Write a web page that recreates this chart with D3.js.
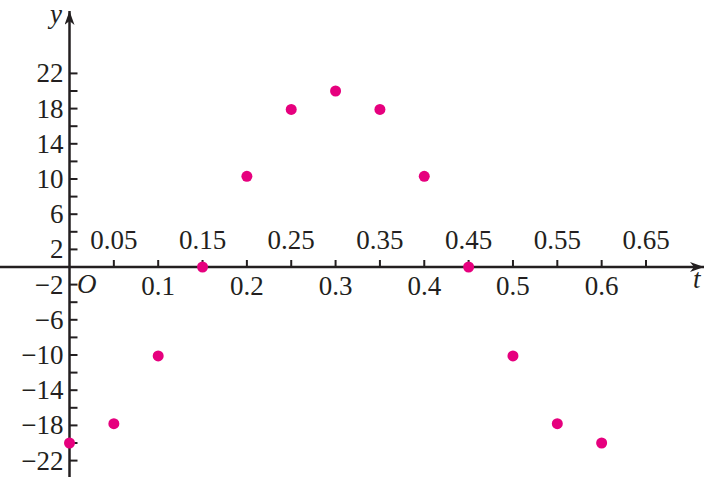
<!DOCTYPE html>
<html><head><meta charset="utf-8">
<script src="https://cdn.jsdelivr.net/npm/d3@7"></script>
<style>body{margin:0;background:#fff}svg{display:block}
text{font-family:"Liberation Serif","Times New Roman",Times,"DejaVu Serif",serif;}</style>
</head><body>
<svg id="c" width="709" height="479"></svg>
<script>
const tValues = [0, 0.05, 0.1, 0.15, 0.2, 0.25, 0.3, 0.35, 0.4, 0.45, 0.5, 0.55, 0.6];
const yValues = [-20, -17.8, -10.1, 0, 10.3, 17.9, 20, 17.9, 10.3, 0, -10.1, -17.8, -20];
const xTicksLower = [0.1, 0.2, 0.3, 0.4, 0.5, 0.6];
const xTicksUpper = [0.05, 0.15, 0.25, 0.35, 0.45, 0.55, 0.65];
const yTickLabels = [22, 18, 14, 10, 6, 2, -2, -6, -10, -14, -18, -22];
const yTicksAll = d3.range(-22, 23, 2);

const svg = d3.select("#c");
const ink = "#231f20";
const fs = 27;

const x = d3.scaleLinear().domain([0, 0.65]).range([69.5, 646]);
const y = d3.scaleLinear().domain([-22, 22]).range([460.6, 73.4]);
const x0 = x(0), y0 = y(0);

const defs = svg.append("defs");
defs.append("marker").attr("id", "arr").attr("viewBox", "0 0 14 10")
  .attr("refX", 14).attr("refY", 5).attr("markerWidth", 14).attr("markerHeight", 10)
  .attr("markerUnits", "userSpaceOnUse").attr("orient", "auto")
  .append("path").attr("d", "M0,0 L14,5 L0,10 L4,5 Z").attr("fill", ink);

svg.append("line").attr("x1", 0).attr("x2", 704).attr("y1", y0).attr("y2", y0)
  .attr("stroke", ink).attr("stroke-width", 2.5).attr("marker-end", "url(#arr)");
svg.append("line").attr("x1", x0).attr("x2", x0).attr("y1", 477).attr("y2", 11)
  .attr("stroke", ink).attr("stroke-width", 2.5).attr("marker-end", "url(#arr)");

const allX = xTicksLower.concat(xTicksUpper);
svg.append("g").selectAll("line").data(allX).join("line")
  .attr("x1", d => x(d)).attr("x2", d => x(d)).attr("y1", y0).attr("y2", y0 - 7)
  .attr("stroke", ink).attr("stroke-width", 2);
svg.append("g").selectAll("line").data(yTicksAll.filter(d => d !== 0)).join("line")
  .attr("x1", x0).attr("x2", x0 + 8).attr("y1", d => y(d)).attr("y2", d => y(d))
  .attr("stroke", ink).attr("stroke-width", 2);

const fmt = v => (v < 0 ? "\u2212" : "") + Math.abs(v);

svg.append("g").selectAll("text").data(xTicksLower).join("text")
  .attr("x", d => x(d)).attr("y", 295).attr("text-anchor", "middle")
  .attr("font-size", fs).attr("fill", ink).text(d => d);
svg.append("g").selectAll("text").data(xTicksUpper).join("text")
  .attr("x", d => x(d)).attr("y", 249).attr("text-anchor", "middle")
  .attr("font-size", fs).attr("fill", ink).text(d => d);
svg.append("g").selectAll("text").data(yTickLabels).join("text")
  .attr("x", x0 - 6).attr("y", d => y(d) + fs * 0.33).attr("text-anchor", "end")
  .attr("font-size", fs).attr("fill", ink).text(fmt);

svg.append("text").attr("x", 77).attr("y", 293).attr("font-style", "italic")
  .attr("font-size", fs).attr("fill", ink).text("O");
svg.append("text").attr("x", 693).attr("y", 288).attr("font-style", "italic")
  .attr("font-size", fs).attr("fill", ink).text("t");
svg.append("text").attr("x", 50).attr("y", 23).attr("font-style", "italic")
  .attr("font-size", fs).attr("fill", ink).text("y");

svg.append("g").selectAll("circle").data(tValues.map((t, i) => [t, yValues[i]])).join("circle")
  .attr("cx", d => x(d[0])).attr("cy", d => y(d[1])).attr("r", 5.5).attr("fill", "#e6007e");
</script>
</body></html>
